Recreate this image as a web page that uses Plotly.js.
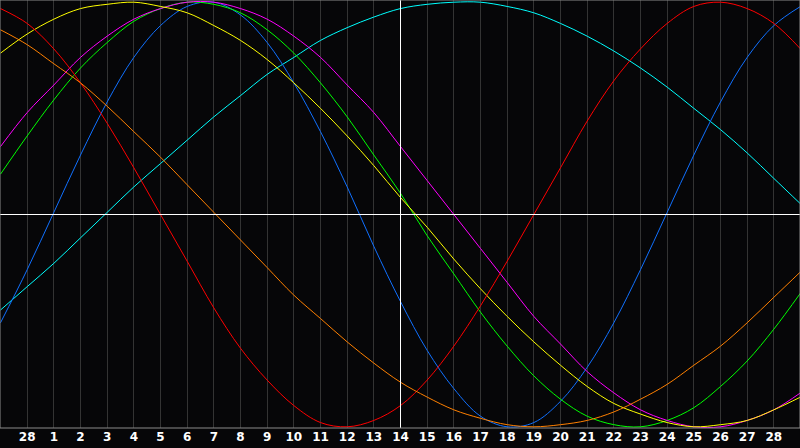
<!DOCTYPE html>
<html>
<head>
<meta charset="utf-8">
<script src="https://cdn.plot.ly/plotly-3.0.1.min.js"></script>
<style>
html,body{margin:0;padding:0;background:#060608;}
#chart{width:800px;height:448px;}
</style>
</head>
<body>
<div id="chart"></div>
<script>
// day slots across the chart (0..30), grid/ticks on slots 1..29
const slots = [0,1,2,3,4,5,6,7,8,9,10,11,12,13,14,15,16,17,18,19,20,21,22,23,24,25,26,27,28,29,30];
const tickSlots = [1,2,3,4,5,6,7,8,9,10,11,12,13,14,15,16,17,18,19,20,21,22,23,24,25,26,27,28,29];
const tickLabels = ['28','1','2','3','4','5','6','7','8','9','10','11','12','13','14','15','16','17','18','19','20','21','22','23','24','25','26','27','28'];
const todaySlot = 15;

// values (-100 .. 100)
const blueVals    = [-51,-26,1,28,53,74,89,98,100,94,81,62,39,13,-15,-41,-64,-82,-95,-100,-98,-88,-72,-51,-26,1,28,53,74,89,98];
const redVals     = [97,90,78,62,43,22,0,-22,-44,-63,-78,-90,-98,-100,-97,-90,-78,-62,-43,-22,0,22,44,63,78,90,98,100,97,90,78];
const greenVals   = [19,37,54,69,81,91,97,100,99,95,87,76,62,46,28,10,-10,-28,-46,-62,-76,-87,-95,-99,-100,-97,-91,-81,-69,-54,-37];
const magentaVals = [32,48,61,74,84,92,97,100,100,97,92,84,74,61,48,32,16,0,-16,-32,-48,-61,-74,-84,-92,-97,-100,-100,-97,-92,-84];
const yellowVals  = [76,85,92,97,99,100,98,95,89,82,73,62,50,37,23,8,-6,-21,-35,-48,-60,-71,-81,-89,-94,-98,-100,-99,-97,-92,-86];
const orangeVals  = [87,80,71,62,51,39,27,14,1,-12,-25,-38,-49,-60,-70,-79,-86,-92,-96,-99,-100,-99,-97,-93,-87,-80,-71,-62,-51,-39,-27];
const cyanVals    = [-45,-34,-23,-11,1,13,24,35,46,56,66,74,82,88,93,97,99,100,100,98,95,90,84,77,69,60,50,40,29,17,5];

const seriesList = [
  {vals: cyanVals, color: '#00ffff'},
  {vals: blueVals, color: '#1070ff'},
  {vals: greenVals, color: '#00ff00'},
  {vals: magentaVals, color: '#ff00ff'},
  {vals: yellowVals, color: '#ffff00'},
  {vals: redVals, color: '#ff0000'},
  {vals: orangeVals, color: '#ff8000'}
];

const traces = seriesList.map(s => ({
  x: slots, y: s.vals, type: 'scatter', mode: 'lines',
  line: {color: s.color, width: 1, shape: 'spline', smoothing: 1},
  hoverinfo: 'skip', showlegend: false
}));

const layout = {
  width: 800, height: 448,
  margin: {l: 0, r: 0, t: 0, b: 20, pad: 0},
  paper_bgcolor: '#060608', plot_bgcolor: '#060608',
  showlegend: false,
  xaxis: {
    range: [-0.01875, 29.98125], fixedrange: true,
    tickmode: 'array', tickvals: tickSlots, ticktext: tickLabels,
    showgrid: true, gridcolor: '#333333', gridwidth: 1,
    zeroline: false, showline: false, ticks: '',
    tickfont: {family: 'DejaVu Sans', size: 12, color: '#ffffff', weight: 'bold'}
  },
  yaxis: {
    range: [-100.565, 101.035], fixedrange: true,
    showgrid: false, zeroline: false, showticklabels: false, ticks: '', showline: false
  },
  shapes: [
    {type: 'line', xref: 'x', yref: 'paper', x0: todaySlot, x1: todaySlot, y0: 0, y1: 1,
     line: {color: '#ffffff', width: 1}, layer: 'above'},
    {type: 'line', xref: 'paper', yref: 'y', x0: 0, x1: 1, y0: 0, y1: 0,
     line: {color: '#ffffff', width: 1}, layer: 'above'},
    {type: 'rect', xref: 'paper', yref: 'paper', x0: 0, x1: 1, y0: 0, y1: 1,
     line: {color: '#8a8a8a', width: 1}, layer: 'above'}
  ]
};

Plotly.newPlot('chart', traces, layout, {displayModeBar: false, staticPlot: true});
</script>
</body>
</html>
